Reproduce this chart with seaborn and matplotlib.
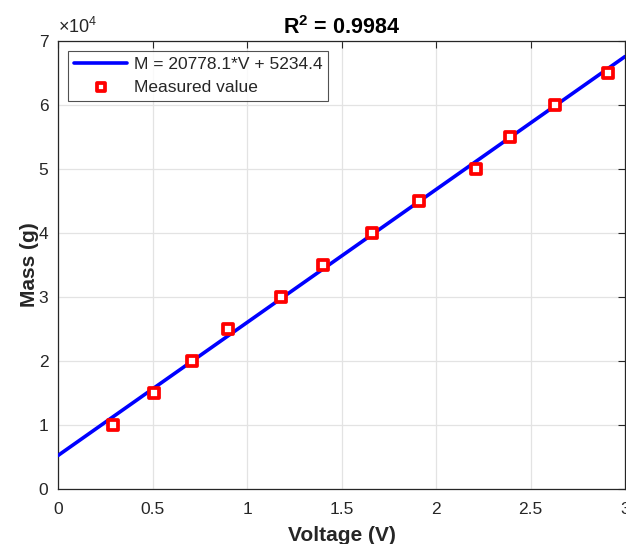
import matplotlib
matplotlib.use("Agg")
import matplotlib.pyplot as plt
import seaborn as sns
import numpy as np
import pandas as pd

voltage = [0.29, 0.51, 0.71, 0.90, 1.18, 1.40, 1.66, 1.91, 2.21, 2.39, 2.63, 2.91]
mass = [10000, 15000, 20000, 25000, 30000, 35000, 40000, 45000, 50000, 55000, 60000, 65000]
slope = 20778.1
intercept = 5234.4
fit_v = [0.0, 3.0]
fit_label = "M = 20778.1*V + 5234.4"
point_label = "Measured value"
title = "R$^{\\mathbf{2}}$ = 0.9984"
xlabel = "Voltage (V)"
ylabel = "Mass (g)"
xticks = [0, 0.5, 1, 1.5, 2, 2.5, 3]
xticklabels = ["0", "0.5", "1", "1.5", "2", "2.5", "3"]
yticks = [0, 10000, 20000, 30000, 40000, 50000, 60000, 70000]
yticklabels = ["0", "1", "2", "3", "4", "5", "6", "7"]

sns.set_style("white")
plt.rcParams["font.family"] = ["Liberation Sans", "DejaVu Sans"]
plt.rcParams["mathtext.fontset"] = "custom"
plt.rcParams["mathtext.rm"] = "Liberation Sans"
plt.rcParams["mathtext.bf"] = "Liberation Sans:bold"

fig = plt.figure(figsize=(6.26, 5.44), dpi=100)
ax = fig.add_axes([58/626, 1-489/544, (625-58)/626, (489-41)/544])

fit_df = pd.DataFrame({"V": fit_v, "M": [slope*v + intercept for v in fit_v]})
pts_df = pd.DataFrame({"V": voltage, "M": mass})

sns.lineplot(data=fit_df, x="V", y="M", ax=ax, color="#0000ff", linewidth=2.6,
             label=fit_label, zorder=3)
sns.scatterplot(data=pts_df, x="V", y="M", ax=ax, marker="s", s=45,
                facecolor="white", edgecolor="#ff0000", linewidth=2.7,
                label=point_label, zorder=4)

ax.set_xlim(0, 3)
ax.set_ylim(0, 70000)
ax.set_xticks(xticks)
ax.set_xticklabels(xticklabels)
ax.set_yticks(yticks)
ax.set_yticklabels(yticklabels)
ax.grid(True, color="#e3e3e3", linewidth=0.9)
ax.set_axisbelow(True)
ax.tick_params(direction="in", length=5, width=0.8, colors="#262626",
               labelsize=12.5, top=True, right=True)
ax.tick_params(axis="x", pad=9)
ax.tick_params(axis="y", pad=7)
for s in ax.spines.values():
    s.set_color("#262626")
    s.set_linewidth(0.9)

ax.set_xlabel(xlabel, fontsize=15, fontweight="bold", color="#262626", labelpad=7)
ax.set_ylabel(ylabel, fontsize=15, fontweight="bold", color="#262626", labelpad=-0.5)
ax.set_title(title, fontsize=15.5, fontweight="bold", color="black", pad=5)
ax.text(0.0, 1.008, "$\\times10^{4}$", transform=ax.transAxes, fontsize=13,
        color="#262626", ha="left", va="bottom")

leg = ax.legend(loc="upper left", fontsize=12.5, frameon=True, fancybox=False,
                edgecolor="#262626", borderaxespad=0.55, handlelength=3.1,
                borderpad=0.35, labelspacing=0.45, handletextpad=0.35,
                markerscale=0.8)
leg.get_frame().set_linewidth(0.8)

fig.savefig("out.png", dpi=100)
